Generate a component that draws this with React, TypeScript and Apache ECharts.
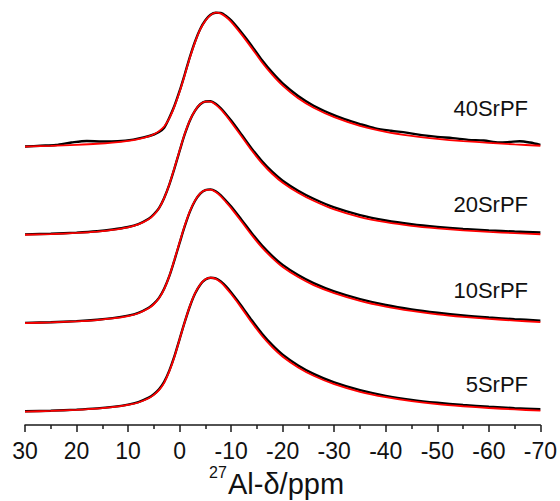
import React, { useEffect, useRef } from "react";
import * as echarts from "echarts";

// chemical shift grid (ppm) shared by fits and most experimental traces
const PPM = [30, 25, 20, 16, 13, 10, 8, 6, 5, 4, 3, 2, 1, 0, -1, -2, -3, -4, -5, -6, -7, -8, -9, -10, -12, -14, -16, -18, -20, -23, -26, -30, -35, -40, -45, -50, -55, -60, -65, -70];

// normalised intensities (peak = 1)
const FIT_5 = [0.0, 0.005, 0.013, 0.022, 0.033, 0.05, 0.068, 0.1, 0.125, 0.16, 0.215, 0.3, 0.41, 0.54, 0.67, 0.79, 0.885, 0.95, 0.988, 1.0, 0.992, 0.965, 0.925, 0.878, 0.775, 0.665, 0.565, 0.48, 0.41, 0.33, 0.268, 0.205, 0.148, 0.108, 0.078, 0.056, 0.04, 0.027, 0.016, 0.007];
const EXP_5 = [0.003, 0.007, 0.015, 0.024, 0.035, 0.052, 0.071, 0.104, 0.13, 0.166, 0.222, 0.306, 0.414, 0.542, 0.67, 0.787, 0.882, 0.948, 0.987, 1.0, 0.996, 0.972, 0.935, 0.89, 0.79, 0.682, 0.582, 0.497, 0.426, 0.345, 0.282, 0.218, 0.16, 0.118, 0.088, 0.066, 0.049, 0.036, 0.026, 0.018];

const FIT_10 = [0.001, 0.006, 0.014, 0.024, 0.036, 0.054, 0.075, 0.112, 0.142, 0.186, 0.255, 0.352, 0.475, 0.605, 0.73, 0.838, 0.918, 0.97, 0.995, 0.998, 0.98, 0.948, 0.905, 0.86, 0.76, 0.658, 0.565, 0.487, 0.42, 0.345, 0.285, 0.225, 0.167, 0.124, 0.092, 0.067, 0.048, 0.033, 0.02, 0.009];
const EXP_10 = [0.003, 0.008, 0.016, 0.026, 0.038, 0.057, 0.078, 0.116, 0.147, 0.19, 0.258, 0.352, 0.472, 0.6, 0.725, 0.834, 0.915, 0.968, 0.995, 1.0, 0.986, 0.956, 0.915, 0.872, 0.774, 0.673, 0.58, 0.502, 0.436, 0.36, 0.3, 0.238, 0.18, 0.136, 0.103, 0.078, 0.058, 0.043, 0.031, 0.02];

const FIT_20 = [0.001, 0.006, 0.0145, 0.0245, 0.037, 0.056, 0.078, 0.117, 0.15, 0.198, 0.275, 0.377, 0.5, 0.63, 0.755, 0.857, 0.93, 0.977, 0.996, 0.995, 0.973, 0.937, 0.892, 0.842, 0.737, 0.63, 0.535, 0.455, 0.39, 0.315, 0.255, 0.19, 0.133, 0.095, 0.068, 0.049, 0.034, 0.022, 0.013, 0.005];
const EXP_20 = [0.004, 0.009, 0.017, 0.027, 0.04, 0.059, 0.081, 0.12, 0.154, 0.2, 0.276, 0.376, 0.497, 0.627, 0.752, 0.855, 0.928, 0.976, 0.997, 0.998, 0.98, 0.946, 0.902, 0.854, 0.75, 0.644, 0.55, 0.47, 0.405, 0.33, 0.27, 0.205, 0.148, 0.108, 0.08, 0.06, 0.045, 0.034, 0.025, 0.018];

const FIT_40 = [0.0, 0.005, 0.013, 0.021, 0.03, 0.043, 0.056, 0.076, 0.092, 0.115, 0.15, 0.21, 0.3, 0.41, 0.535, 0.665, 0.78, 0.875, 0.94, 0.982, 1.0, 0.993, 0.968, 0.932, 0.838, 0.735, 0.628, 0.535, 0.455, 0.36, 0.29, 0.22, 0.155, 0.11, 0.08, 0.058, 0.041, 0.028, 0.016, 0.006];
// noisier experimental trace for 40SrPF, on its own denser grid
const PPM_40_EXP = [30, 27, 24, 21, 18, 15, 12, 9, 7, 5, 4, 3, 2, 1, 0, -1, -2, -3, -4, -5, -6, -7, -8, -9, -10, -12, -14, -16, -18, -20, -23, -26, -29, -32, -35, -38, -41, -44, -47, -50, -53, -56, -59, -62, -64, -66, -68, -70];
const EXP_40 = [0.0, 0.006, 0.012, 0.03, 0.042, 0.038, 0.04, 0.052, 0.068, 0.09, 0.108, 0.14, 0.215, 0.305, 0.415, 0.54, 0.67, 0.785, 0.878, 0.943, 0.984, 1.0, 0.998, 0.975, 0.942, 0.852, 0.752, 0.645, 0.552, 0.472, 0.378, 0.305, 0.25, 0.205, 0.168, 0.136, 0.118, 0.104, 0.085, 0.072, 0.063, 0.05, 0.045, 0.03, 0.034, 0.04, 0.03, 0.012];

const SAMPLES = ["5SrPF", "10SrPF", "20SrPF", "40SrPF"];
const OFFSETS = [0, 0.66, 1.32, 1.98];
const X_TICKS = [30, 20, 10, 0, -10, -20, -30, -40, -50, -60, -70];

const FONT = "'Liberation Sans', Arial, Helvetica, sans-serif";

export default function App() {
  const ref = useRef<HTMLDivElement>(null);
  useEffect(() => {
    if (!ref.current) return;
    const chart = echarts.init(ref.current, undefined, { renderer: "svg" });

    const exps = [
      { x: PPM, y: EXP_5 },
      { x: PPM, y: EXP_10 },
      { x: PPM, y: EXP_20 },
      { x: PPM_40_EXP, y: EXP_40 },
    ];
    const fits = [FIT_5, FIT_10, FIT_20, FIT_40];

    const series: any[] = [];
    SAMPLES.forEach((name, i) => {
      const off = OFFSETS[i];
      series.push({
        name: name + " exp",
        type: "line",
        smooth: 0.3,
        showSymbol: false,
        symbol: "none",
        z: 2,
        lineStyle: { color: "#000000", width: 2.4 },
        data: exps[i].x.map((p, k) => [p, exps[i].y[k] + off]),
      });
      series.push({
        name: name + " fit",
        type: "line",
        smooth: 0.3,
        showSymbol: false,
        symbol: "none",
        z: 3,
        lineStyle: { color: "#ff0000", width: 1.8 },
        data: PPM.map((p, k) => [p, fits[i][k] + off]),
      });
    });

    const labelY = [384, 290, 204, 108];

    chart.setOption({
      animation: false,
      backgroundColor: "#ffffff",
      grid: { left: 25, right: 19, top: 10, bottom: 76, containLabel: false },
      xAxis: {
        type: "value",
        inverse: true,
        min: -70,
        max: 30,
        interval: 10,
        axisLine: { show: true, onZero: false, lineStyle: { color: "#1a1a1a", width: 1.5 } },
        axisTick: { show: true, length: 7, lineStyle: { color: "#1a1a1a", width: 1.5 } },
        minorTick: { show: true, splitNumber: 2, length: 4, lineStyle: { color: "#1a1a1a", width: 1.5 } },
        splitLine: { show: false },
        axisLabel: {
          fontSize: 23,
          color: "#111111",
          margin: 14,
          fontFamily: FONT,
          formatter: (v: number) => (X_TICKS.includes(v) ? String(v) : ""),
        },
      },
      yAxis: { type: "value", show: false, min: -0.1, max: 3.0 },
      series,
      graphic: [
        ...SAMPLES.map((s, i) => ({
          type: "text",
          x: 528,
          y: labelY[i],
          style: {
            text: s,
            fontSize: 22,
            fontFamily: FONT,
            fill: "#111111",
            textAlign: "right",
            textVerticalAlign: "middle",
          },
        })),
        {
          type: "text",
          x: 209,
          y: 472,
          style: { text: "27", fontSize: 16, fontFamily: FONT, fill: "#111111", textAlign: "left", textVerticalAlign: "middle" },
        },
        {
          type: "text",
          x: 228,
          y: 484,
          style: { text: "Al-δ/ppm", fontSize: 29, fontFamily: FONT, fill: "#111111", textAlign: "left", textVerticalAlign: "middle" },
        },
      ],
    });
    return () => chart.dispose();
  }, []);

  return (
    <div
      ref={ref}
      style={{ position: "absolute", left: 0, top: 0, width: 560, height: 501, background: "#fff" }}
    />
  );
}
